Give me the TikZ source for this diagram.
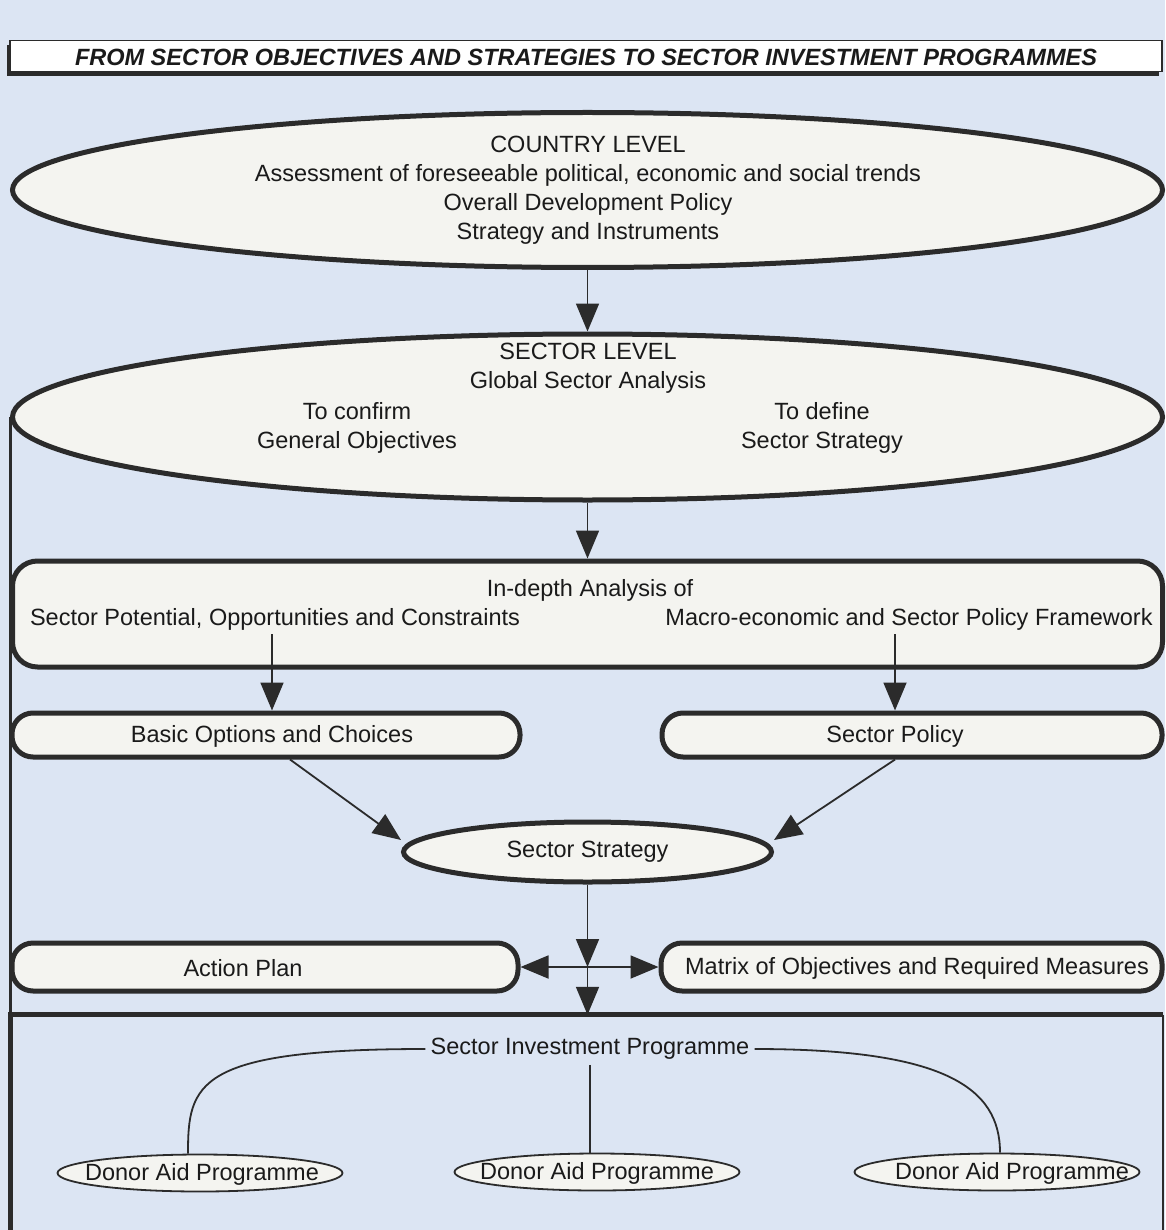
\documentclass[tikz,border=0pt]{standalone}
\usepackage{fontspec}
\setmainfont{Liberation Sans}
\usetikzlibrary{shapes.geometric,arrows.meta,shadows}
\definecolor{bgblue}{HTML}{DCE5F3}
\definecolor{edge}{HTML}{2B2B2B}
\definecolor{boxfill}{HTML}{F4F4F0}
\definecolor{ink}{HTML}{1A1A1A}
\begin{document}
\begin{tikzpicture}[x=1pt,y=-1pt,
  txt/.style={font=\fontsize{23.5}{29}\selectfont, text=ink, align=center, inner sep=0pt},
  bigell/.style={ellipse, draw=edge, line width=5pt, fill=boxfill, inner sep=0pt},
  rbox/.style={draw=edge, line width=5pt, fill=boxfill, rounded corners=21pt, inner sep=0pt},
  donor/.style={ellipse, draw=edge, line width=1.8pt, fill=boxfill, inner sep=0pt, minimum width=285pt, minimum height=37pt},
  arr/.style={draw=edge, line width=1.8pt, -{Triangle[length=28pt,width=23pt]}},
  ln/.style={draw=edge, line width=1.8pt},
  titlebox/.style={draw=edge, line width=1.2pt, fill=white, inner sep=0pt,
    drop shadow={shadow xshift=-3pt, shadow yshift=-5pt, fill=edge, opacity=1}}
]
\useasboundingbox (0,0) rectangle (1165,1230);
\fill[bgblue] (0,0) rectangle (1165,1230);

% title
\node[titlebox, minimum width=1152pt, minimum height=31pt] (tbox) at (586,56) {};
\node[txt, font=\fontsize{23.5}{29}\selectfont\bfseries\itshape] (title) at (586,57)
  {FROM SECTOR OBJECTIVES AND STRATEGIES TO SECTOR INVESTMENT PROGRAMMES};

% country level
\node[bigell, minimum width=1150pt, minimum height=155pt] (country) at (587.5,190) {};
\node[txt] (countrytxt) at (588,190.5) {COUNTRY LEVEL\\Assessment of foreseeable political, economic and social trends\\Overall Development Policy\\Strategy and Instruments};

% sector level
\node[bigell, minimum width=1150pt, minimum height=166pt] (sector) at (587.5,417) {};
\node[txt] (sectortxt) at (588,368) {SECTOR LEVEL\\Global Sector Analysis};
\node[txt] (confirm) at (357,428) {To confirm\\General Objectives};
\node[txt] (define) at (822,428) {To define\\Sector Strategy};

% left line
\draw[ln, line width=3pt] (sector.west) -- (sector.west |- 0,1230);

% in-depth analysis
\node[rbox, rounded corners=25pt, minimum width=1150pt, minimum height=106pt] (indepth) at (587.5,614) {};
\node[txt] (indepthtxt) at (590,590) {In-depth Analysis of};
\node[txt] (spt) at (275,619) {Sector Potential, Opportunities and Constraints};
\node[txt] (mac) at (909,619) {Macro-economic and Sector Policy Framework};

% basic options / sector policy
\node[rbox, minimum width=508pt, minimum height=44pt] (basic) at (266,735) {};
\node[txt] (basictxt) at (272,736) {Basic Options and Choices};
\node[rbox, minimum width=500pt, minimum height=44pt] (policy) at (912,735) {};
\node[txt] (policytxt) at (895,736) {Sector Policy};

% sector strategy
\node[ellipse, draw=edge, line width=5pt, fill=boxfill, inner sep=0pt,
  minimum width=368pt, minimum height=60pt, txt] (strat) at (587.5,852) {Sector Strategy};

% action plan / matrix
\node[rbox, minimum width=506pt, minimum height=48pt] (ap) at (265,967) {};
\node[txt] (aptxt) at (243,968) {Action Plan};
\node[rbox, minimum width=501pt, minimum height=48pt] (mat) at (911.5,967) {};
\node[txt] (mattxt) at (917,968) {Matrix of Objectives and Required Measures};

% sector investment programme
\node[minimum width=1152pt, minimum height=216pt, inner sep=0pt] (sip) at (587,1123) {};
\draw[draw=edge, line width=5pt] (sip.south west) -- (sip.north west) -- (sip.north east);
\draw[draw=edge, line width=2.5pt] (sip.north east) -- (sip.south east);
\node[txt] (siptxt) at (590,1049) {Sector Investment Programme};
\node[donor] (d1) at (200,1173) {};
\node[txt] (d1txt) at (202,1174) {Donor Aid Programme};
\node[donor] (d2) at (597,1172) {};
\node[txt] (d2txt) at (597,1173) {Donor Aid Programme};
\node[donor] (d3) at (997,1172) {};
\node[txt] (d3txt) at (1012,1173) {Donor Aid Programme};

% connectors
\draw[arr] (country.south) -- (sector.north);
\draw[arr] (sector.south) -- (indepth.north);
\draw[arr] ([yshift=-4pt]spt.south -| basictxt) -- (basictxt |- basic.north);
\draw[arr] ([yshift=-4pt]mac.south -| policytxt) -- (policytxt |- policy.north);
\draw[arr] ([xshift=24pt]basic.south) -- ([yshift=12pt]strat.west);
\draw[arr] (policytxt |- policy.south) -- ([yshift=12pt]strat.east);
\coordinate (cross) at (strat.south |- ap.east);
\draw[arr] (strat.south) -- (cross);
\draw[arr] (cross) -- (ap.east);
\draw[arr] (cross) -- (mat.west);
\draw[arr] (cross) -- (cross |- sip.north);
\draw[ln] ([xshift=-5pt]siptxt.west) .. controls +(-230,0) and +(0,-70) .. ([xshift=-12pt]d1.north);
\draw[ln] ([yshift=-5pt]siptxt.south) -- (siptxt.south |- d2.north);
\draw[ln] ([xshift=5pt]siptxt.east) .. controls +(190,0) and +(0,-65) .. ([xshift=3pt]d3.north);
\end{tikzpicture}
\end{document}
